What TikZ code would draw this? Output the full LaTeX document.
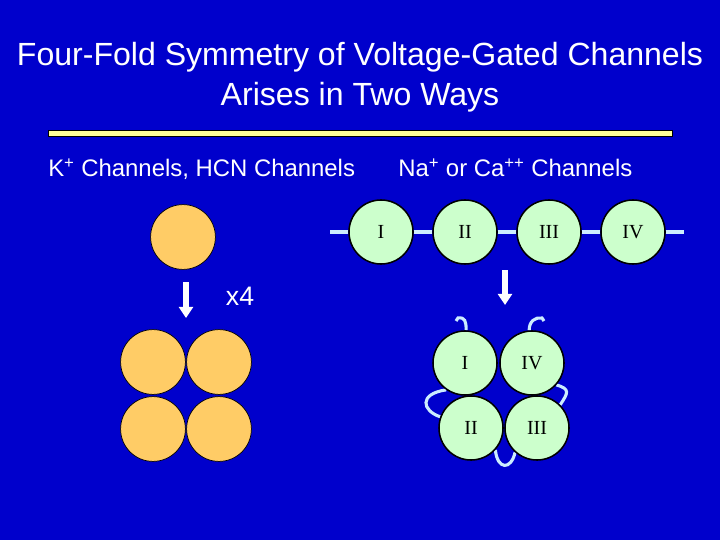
\documentclass[tikz,border=0pt]{standalone}
\usepackage{fontspec}
\setmainfont{Liberation Serif}
\setsansfont{Liberation Sans}
\usepackage{tikz}
\usetikzlibrary{arrows.meta}
\definecolor{slideblue}{RGB}{0,0,204}
\definecolor{subc}{RGB}{255,204,102}
\definecolor{domc}{RGB}{204,255,204}
\definecolor{lnkc}{RGB}{204,236,255}
\definecolor{rulec}{RGB}{255,255,153}
\pgfdeclarelayer{bg}
\pgfdeclarelayer{links}
\pgfsetlayers{bg,links,main}
\tikzset{
  ttl/.style={font=\sffamily\fontsize{22.8}{27}\selectfont,text=white,anchor=base},
  hd/.style={font=\sffamily\fontsize{17}{20}\selectfont,text=white,anchor=base west,inner sep=0pt},
  su/.style={circle,fill=subc,draw=black,line width=0.5pt,minimum size=1.62cm,inner sep=0pt},
  dm/.style={circle,fill=domc,draw=black,line width=1.1pt,minimum size=1.6cm,inner sep=0pt,font=\fontsize{14.2}{17}\selectfont},
  lnk/.style={lnkc,line width=2.2pt},
  arr/.style={white,line width=3.6pt,-{Triangle[width=10pt,length=8pt]}}
}

\begin{document}
\begin{tikzpicture}[x=0.025cm,y=0.025cm]
\useasboundingbox (0,0) rectangle (720,540);
\begin{pgfonlayer}{bg}
\fill[slideblue] (0,0) rectangle (720,540);
\end{pgfonlayer}
\node[ttl] (t1) at (360,474) {Four-Fold Symmetry of Voltage-Gated Channels};
\node[ttl] (t2) at (360,434) {Arises in Two Ways};
\filldraw[fill=rulec,draw=black,line width=0.6pt] (48,404) rectangle (672,410);
\node[hd] (hk) at (48,363) {K\textsuperscript{+} Channels, HCN Channels};
\node[hd] (hn) at (398,363) {Na\textsuperscript{+} or Ca\textsuperscript{++} Channels};
\node[su] (k0) at (183,303) {};
\coordinate (a1) at (186,258); \coordinate (b1) at (186,222);
\draw[arr] (a1) -- (b1);
\node[font=\sffamily\fontsize{19}{22}\selectfont,text=white] (x4) at (240,244) {x4};
\node[su] (k1) at (153,178) {};
\node[su] (k2) at (219,178) {};
\node[su] (k3) at (153,111) {};
\node[su] (k4) at (219,111) {};
\node[dm] (d1) at (381,308) {I};
\node[dm] (d2) at (465,308) {II};
\node[dm] (d3) at (549,308) {III};
\node[dm] (d4) at (633,308) {IV};
\coordinate (c0) at (330,308); \coordinate (c5) at (684,308);
\coordinate (a2) at (505,270); \coordinate (b2) at (505,235);
\draw[arr] (a2) -- (b2);
\node[dm] (qI) at (465,177) {I};
\node[dm] (qIV) at (532,177) {IV};
\node[dm] (qII) at (471,112) {II};
\node[dm] (qIII) at (537,112) {III};
\coordinate (tI) at (458,222); \coordinate (tIV) at (542,222);
\begin{pgfonlayer}{links}
\draw[lnkc,line width=2.8pt] (c0) -- (d1) -- (d2) -- (d3) -- (d4) -- (c5);
\draw[lnk] (qI.88) .. controls +(0,9) and +(7,1) .. (tI) -- ++(-2,-3);
\draw[lnk] (qIV.95) .. controls +(0,9) and +(-7,1) .. (tIV) -- ++(2,-3);
\draw[lnk] (qI.235) .. controls +(-28,-4) and +(-18,6) .. (qII.160);
\draw[lnk] (qII.318) .. controls +(2,-20) and +(-4,-18) .. (qIII.228);
\draw[lnk] (qIV.318) .. controls +(14,-4) and +(8,12) .. (qIII.45);
\end{pgfonlayer}
\end{tikzpicture}
\end{document}
